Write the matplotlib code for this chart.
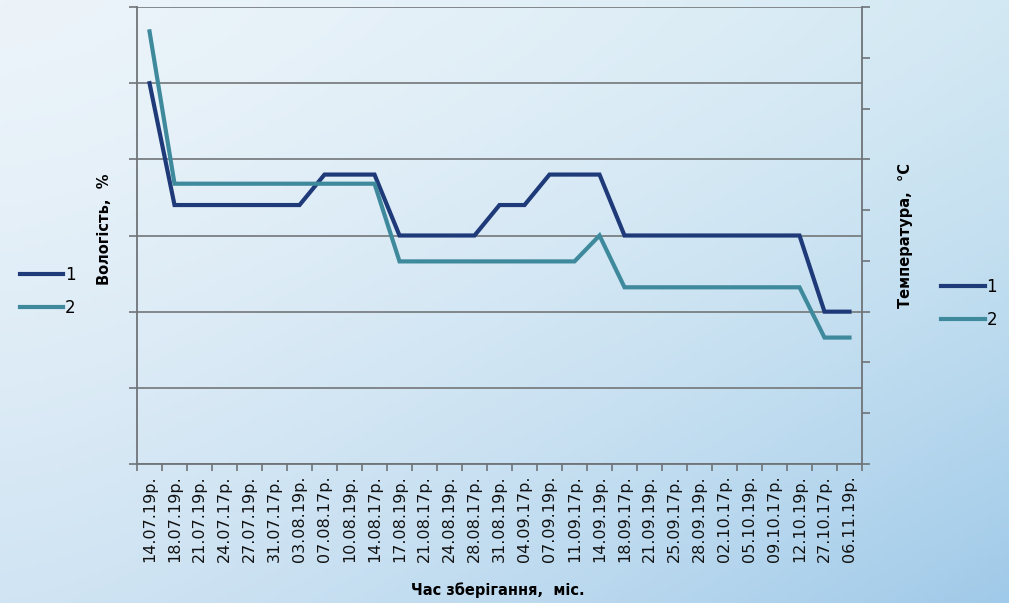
import numpy as np
import matplotlib.pyplot as plt

dates = ["14.07.19р.", "18.07.19р.", "21.07.19р.", "24.07.17р.", "27.07.19р.",
         "31.07.17р.", "03.08.19р.", "07.08.17р.", "10.08.19р.", "14.08.17р.",
         "17.08.19р.", "21.08.17р.", "24.08.19р.", "28.08.17р.", "31.08.19р.",
         "04.09.17р.", "07.09.19р.", "11.09.17р.", "14.09.19р.", "18.09.17р.",
         "21.09.19р.", "25.09.17р.", "28.09.19р.", "02.10.17р.", "05.10.19р.",
         "09.10.17р.", "12.10.19р.", "27.10.17р.", "06.11.19р."]

series1 = [25.0, 17.0, 17.0, 17.0, 17.0, 17.0, 17.0, 19.0, 19.0, 19.0,
           15.0, 15.0, 15.0, 15.0, 17.0, 17.0, 19.0, 19.0, 19.0, 15.0,
           15.0, 15.0, 15.0, 15.0, 15.0, 15.0, 15.0, 10.0, 10.0]
series2 = [28.4, 18.4, 18.4, 18.4, 18.4, 18.4, 18.4, 18.4, 18.4, 18.4,
           13.3, 13.3, 13.3, 13.3, 13.3, 13.3, 13.3, 13.3, 15.0, 11.6,
           11.6, 11.6, 11.6, 11.6, 11.6, 11.6, 11.6, 8.3, 8.3]

c1 = "#1f3a78"
c2 = "#3e8a9c"
axis_c = "#6f7478"

fig = plt.figure(figsize=(10.09, 6.03), dpi=100)

# soft blue gradient behind everything
bg = fig.add_axes([0, 0, 1, 1], zorder=-10)
gx, gy = np.meshgrid(np.linspace(0, 1, 200), np.linspace(0, 1, 120))
gx = gx ** 1.4
gy = gy ** 1.3
tl = np.array([236, 244, 250]) / 255
tr = np.array([210, 232, 243]) / 255
bl = np.array([208, 228, 243]) / 255
br = np.array([160, 202, 233]) / 255
img = ((1 - gx)[..., None] * (1 - gy)[..., None] * tl + gx[..., None] * (1 - gy)[..., None] * tr
       + (1 - gx)[..., None] * gy[..., None] * bl + gx[..., None] * gy[..., None] * br)
bg.imshow(img, aspect="auto", extent=[0, 1, 0, 1], origin="upper")
bg.axis("off")

ax = fig.add_axes([0.1358, 0.2305, 0.7185, 0.7579])
ax.patch.set_alpha(0)
x = np.arange(len(dates))
l1, = ax.plot(x, series1, color=c1, lw=3.0, solid_joinstyle="miter", zorder=3)
l2, = ax.plot(x, series2, color=c2, lw=3.0, solid_joinstyle="miter", zorder=3)

ax.set_xlim(-0.5, len(dates) - 0.5)
ax.set_ylim(0, 30)
ax.set_yticks(np.arange(0, 31, 5))
ax.set_yticklabels([])
ax.grid(axis="y", color="#7a7f82", lw=1.3)
ax.set_axisbelow(True)

ax.set_xticks(x)
ax.set_xticklabels(dates, rotation=90, fontsize=11.5, color="#111111")
ax.set_xticks(np.arange(len(dates) + 1) - 0.5, minor=True)
ax.tick_params(axis="x", which="major", length=0, pad=8)
ax.tick_params(axis="x", which="minor", length=5, width=1.2, color=axis_c, direction="out")
ax.tick_params(axis="y", length=6, width=1.2, color=axis_c, direction="out")

for s in ["top", "right"]:
    ax.spines[s].set_visible(False)
for s in ["left", "bottom"]:
    ax.spines[s].set_color(axis_c)
    ax.spines[s].set_linewidth(1.3)

ax2 = ax.twinx()
ax2.set_ylim(0, 9)
ax2.set_yticks(np.arange(0, 10))
ax2.set_yticklabels([])
ax2.tick_params(axis="y", length=6, width=1.2, color=axis_c, direction="out")
for s in ["top", "left", "bottom"]:
    ax2.spines[s].set_visible(False)
ax2.spines["right"].set_color(axis_c)
ax2.spines["right"].set_linewidth(1.3)

fig.text(0.493, 0.022, "Час зберігання,  міс.", ha="center", va="center",
         fontsize=10.5, fontweight="bold")
fig.text(0.104, 0.62, "Вологість,  %", ha="center", va="center",
         rotation=90, fontsize=10.5, fontweight="bold")
fig.text(0.897, 0.61, "Температура,  °С", ha="center", va="center",
         rotation=90, fontsize=10.5, fontweight="bold")

leg_kw = dict(frameon=False, handlelength=2.6, handletextpad=0.1,
              labelspacing=0.9, fontsize=12)
fig.legend([l1, l2], ["1", "2"], loc="center left",
           bbox_to_anchor=(0.005, 0.517), **leg_kw)
fig.legend([l1, l2], ["1", "2"], loc="center left",
           bbox_to_anchor=(0.918, 0.497), **leg_kw)

fig.savefig("out.png", dpi=100)
